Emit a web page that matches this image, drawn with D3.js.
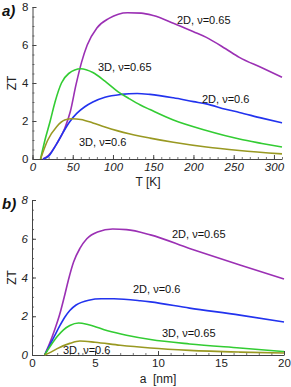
<!DOCTYPE html>
<html>
<head>
<meta charset="utf-8">
<script src="https://cdn.jsdelivr.net/npm/d3@7"></script>
<style>
  body { margin: 0; background: #fff; }
  text { font-family: "Liberation Sans", Arial, sans-serif; }
</style>
</head>
<body>
<div id="chart"></div>
<script>

// panel a) ZT vs temperature T [K]
var temp_2d_065 = [13, 20, 30, 40, 47, 54, 61, 68, 80, 95, 118, 135, 150, 175, 200, 216, 240, 257, 285, 310]
var zt_2d_065   = [0, 0.2, 0.8, 1.6, 2.5, 3.9, 5.1, 6.0, 6.9, 7.4, 7.7, 7.68, 7.55, 7.15, 6.7, 6.4, 5.8, 5.35, 4.8, 4.3]
var temp_3d_065 = [10, 15.5, 22, 28, 36, 45, 60, 75, 90, 106, 120, 134, 146, 175, 216, 257, 285, 310]
var zt_3d_065   = [0, 1.0, 2.0, 3.0, 4.0, 4.5, 4.75, 4.55, 4.1, 3.55, 3.18, 2.84, 2.6, 2.05, 1.5, 1.05, 0.82, 0.63]
var temp_2d_06  = [13, 20, 30, 38, 46, 55, 65, 75, 90, 110, 130, 146, 175, 200, 216, 240, 257, 285, 310]
var zt_2d_06    = [0, 0.15, 0.8, 1.4, 1.95, 2.4, 2.75, 3.0, 3.25, 3.4, 3.45, 3.4, 3.22, 3.02, 2.9, 2.62, 2.45, 2.15, 1.9]
var temp_3d_06  = [10, 19, 30, 40, 49, 60, 75, 90, 106, 120, 134, 146, 175, 216, 257, 310]
var zt_3d_06    = [0, 1.0, 1.7, 2.05, 2.12, 2.08, 1.9, 1.68, 1.48, 1.33, 1.2, 1.1, 0.88, 0.63, 0.45, 0.27]

// panel b) ZT vs size a [nm]
var size_2d_065 = [1, 1.4, 1.8, 2.2, 2.6, 2.9, 3.3, 3.8, 4.35, 5.2, 6.4, 7.5, 9.4, 12.5, 16.5, 20]
var zb_2d_065   = [0, 0.6, 1.3, 2.1, 3.1, 3.9, 4.8, 5.5, 6.0, 6.35, 6.5, 6.47, 6.2, 5.5, 4.64, 3.92]
var size_2d_06  = [1, 1.4, 1.8, 2.2, 2.6, 3, 3.5, 4.5, 5.5, 6.5, 8.6, 9.4, 12.5, 16.5, 20]
var zb_2d_06    = [0, 0.5, 1.0, 1.5, 1.95, 2.3, 2.58, 2.83, 2.9, 2.9, 2.8, 2.74, 2.42, 2.06, 1.7]
var size_3d_065 = [1, 1.5, 2, 2.5, 3, 3.7, 4.5, 6, 7.5, 9.4, 12.5, 16.5, 20]
var zb_3d_065   = [0, 0.5, 0.95, 1.3, 1.52, 1.65, 1.56, 1.25, 1.02, 0.8, 0.57, 0.36, 0.18]
var size_3d_06  = [1, 1.5, 2, 3, 3.8, 5, 7, 9.4, 12.5, 16.5, 20]
var zb_3d_06    = [0, 0.15, 0.33, 0.6, 0.72, 0.66, 0.5, 0.36, 0.24, 0.15, 0.1]

var ticks_temp = [0, 50, 100, 150, 200, 250, 300]
var ticks_size = [0, 5, 10, 15, 20]
var ticks_zt = [0, 2, 4, 6, 8]

var colors = { p: "#9b30b4", g: "#33cc33", b: "#2233ee", o: "#999922" }

var svg = d3.select("#chart").append("svg")
  .attr("width", 291)
  .attr("height", 387)

// draw one panel
function draw_panel(opt){

  var x = d3.scaleLinear().domain(opt.xdom).range([opt.left, opt.right])
  var y = d3.scaleLinear().domain([0, 8]).range([opt.bottom, opt.top])

  var g = svg.append("g")

  // x axis, ticks pointing up
  var xminor = d3.range(opt.xdom[0], opt.xdom[1] + 1e-9, opt.xminor)
  g.append("g")
    .attr("transform", "translate(0," + opt.bottom + ")")
    .call(d3.axisBottom(x).tickValues(xminor).tickSize(-2).tickFormat(""))
    .call(function(a){ a.select(".domain").remove() })
    .selectAll("line").attr("stroke", "#777")
  var xa = g.append("g")
    .attr("transform", "translate(0," + opt.bottom + ")")
    .call(d3.axisBottom(x).tickValues(opt.xticks).tickSize(-4).tickPadding(4)
      .tickSizeOuter(0))
  xa.select(".domain").attr("stroke", "#444")
  xa.selectAll("line").attr("stroke", "#444")
  xa.selectAll("text")
    .attr("font-size", 11.5)
    .attr("fill", "#222")
    .style("font-style", opt.xitalic ? "italic" : "normal")

  // y axis, ticks pointing right
  var yminor = d3.range(0, 8.01, 0.5)
  g.append("g")
    .attr("transform", "translate(" + opt.left + ",0)")
    .call(d3.axisLeft(y).tickValues(yminor).tickSize(-2).tickFormat(""))
    .call(function(a){ a.select(".domain").remove() })
    .selectAll("line").attr("stroke", "#777")
  var ya = g.append("g")
    .attr("transform", "translate(" + opt.left + ",0)")
    .call(d3.axisLeft(y).tickValues(ticks_zt).tickSize(-4).tickPadding(4)
      .tickSizeOuter(0))
  ya.select(".domain").attr("stroke", "#444")
  ya.selectAll("line").attr("stroke", "#444")
  ya.selectAll("text")
    .attr("font-size", 11.5)
    .attr("fill", "#222")
    .style("font-style", opt.yitalic ? "italic" : "normal")

  // curves
  var line = d3.line()
    .x(function(d){ return x(d[0]) })
    .y(function(d){ return y(d[1]) })
    .curve(d3.curveMonotoneX)

  opt.series.forEach(function(s){
    g.append("path")
      .datum(d3.zip(s.xs, s.ys))
      .attr("fill", "none")
      .attr("stroke", s.color)
      .attr("stroke-width", 1.6)
      .attr("d", line)
  })

  // curve labels
  opt.labels.forEach(function(l){
    g.append("text")
      .attr("x", l[0]).attr("y", l[1])
      .attr("font-size", 11)
      .attr("fill", "#111")
      .text(l[2])
  })

  // axis titles
  g.append("text")
    .attr("transform", "translate(16," + ((opt.top + opt.bottom) / 2) + ") rotate(-90)")
    .attr("text-anchor", "middle")
    .attr("font-size", 12)
    .attr("fill", "#222")
    .text("ZT")

  g.append("text")
    .attr("x", opt.xtitle[0]).attr("y", opt.xtitle[1])
    .attr("text-anchor", "middle")
    .attr("font-size", 12)
    .attr("fill", "#222")
    .attr("xml:space", "preserve")
    .text(opt.xtitle[2])

  // panel letter
  g.append("text")
    .attr("x", 2).attr("y", opt.top + 9)
    .attr("font-size", 15)
    .attr("font-weight", "bold")
    .style("font-style", "italic")
    .attr("fill", "#111")
    .text(opt.letter)
}

draw_panel({
  xdom: [0, 310], left: 32.5, right: 282, top: 7, bottom: 159,
  xticks: ticks_temp, xminor: 10, xitalic: true, yitalic: false,
  xtitle: [148, 186, "T [K]"], letter: "a)",
  series: [
    { xs: temp_2d_065, ys: zt_2d_065, color: colors.p },
    { xs: temp_2d_06, ys: zt_2d_06, color: colors.b },
    { xs: temp_3d_065, ys: zt_3d_065, color: colors.g },
    { xs: temp_3d_06, ys: zt_3d_06, color: colors.o }
  ],
  labels: [
    [177, 24, "2D, ν=0.65"],
    [98, 71, "3D, ν=0.65"],
    [202, 103, "2D, ν=0.6"],
    [79, 146, "3D, ν=0.6"]
  ]
})

draw_panel({
  xdom: [0, 20], left: 32, right: 284, top: 200, bottom: 355,
  xticks: ticks_size, xminor: 1, xitalic: false, yitalic: true,
  xtitle: [158, 383, "a  [nm]"], letter: "b)",
  series: [
    { xs: size_2d_065, ys: zb_2d_065, color: colors.p },
    { xs: size_2d_06, ys: zb_2d_06, color: colors.b },
    { xs: size_3d_065, ys: zb_3d_065, color: colors.g },
    { xs: size_3d_06, ys: zb_3d_06, color: colors.o }
  ],
  labels: [
    [172, 238, "2D, ν=0.65"],
    [133, 293, "2D, ν=0.6"],
    [162, 337, "3D, ν=0.65"],
    [63, 354, "3D, ν=0.6"]
  ]
})

</script>
</body>
</html>
